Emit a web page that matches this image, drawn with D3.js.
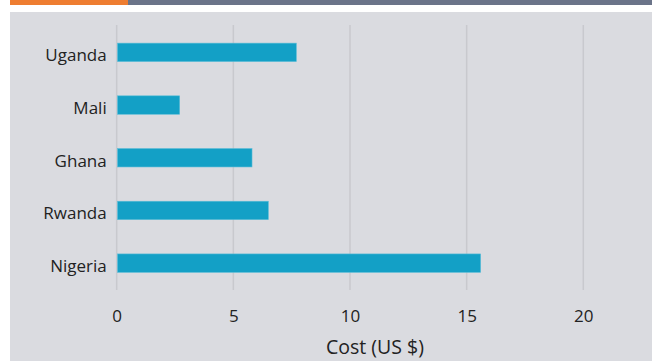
<!DOCTYPE html>
<html>
<head>
<meta charset="utf-8">
<script src="https://cdn.jsdelivr.net/npm/d3@7"></script>
<style>
  body { margin: 0; background: #fff; }
  svg { display: block; font-family: "Open Sans", sans-serif; }
</style>
</head>
<body>
<div id="chart"></div>
<script>
// chart data
const countries = ["Uganda", "Mali", "Ghana", "Rwanda", "Nigeria"];
const costs = [7.7, 2.7, 5.8, 6.5, 15.6];
const xTicks = [0, 5, 10, 15, 20];
const xLabel = "Cost (US $)";

const width = 652, height = 361;

const svg = d3.select("#chart").append("svg")
    .attr("width", width)
    .attr("height", height);

// header strip
svg.append("rect").attr("x", 10).attr("y", 0).attr("width", 118).attr("height", 5).attr("fill", "#ee7d31");
svg.append("rect").attr("x", 128).attr("y", 0).attr("width", width - 128).attr("height", 5).attr("fill", "#6b7489");

// panel
svg.append("rect").attr("x", 10).attr("y", 12).attr("width", width - 10).attr("height", height - 12).attr("fill", "#dadbe0");

const x = d3.scaleLinear().domain([0, 20]).range([116.7, 583.3]);
const y = d3.scaleBand().domain(countries).range([26, 289.5])
    .paddingInner(0.65).paddingOuter(0.325);

// gridlines
svg.append("g").selectAll("line")
    .data(xTicks)
    .join("line")
    .attr("x1", d => x(d)).attr("x2", d => x(d))
    .attr("y1", 25).attr("y2", 290)
    .attr("stroke", "#c8c9ce")
    .attr("stroke-width", 1.5);

// bars
svg.append("g").selectAll("rect")
    .data(countries)
    .join("rect")
    .attr("x", x(0) + 0.8)
    .attr("y", d => y(d))
    .attr("width", (d, i) => x(costs[i]) - x(0) - 0.8)
    .attr("height", y.bandwidth())
    .attr("fill", "#13a0c6")
    .attr("stroke", "#5cbdd8")
    .attr("stroke-width", 0.6);

// category labels
const yAxis = svg.append("g")
    .attr("transform", `translate(${x(0)},0)`)
    .call(d3.axisLeft(y).tickSize(0).tickPadding(10));
yAxis.select(".domain").remove();
yAxis.selectAll("text")
    .attr("font-family", "Open Sans")
    .attr("font-size", 17)
    .attr("fill", "#222")
    .attr("dy", "0.52em");

// x axis labels
const xAxis = svg.append("g")
    .attr("transform", "translate(0,309.5)")
    .call(d3.axisBottom(x).tickValues(xTicks).tickSize(0).tickPadding(0));
xAxis.select(".domain").remove();
xAxis.selectAll("text")
    .attr("font-family", "Open Sans")
    .attr("font-size", 17)
    .attr("fill", "#222");

svg.append("text")
    .attr("x", 375)
    .attr("y", 354)
    .attr("text-anchor", "middle")
    .attr("font-size", 19.5)
    .attr("fill", "#222")
    .text(xLabel);
</script>
</body>
</html>
